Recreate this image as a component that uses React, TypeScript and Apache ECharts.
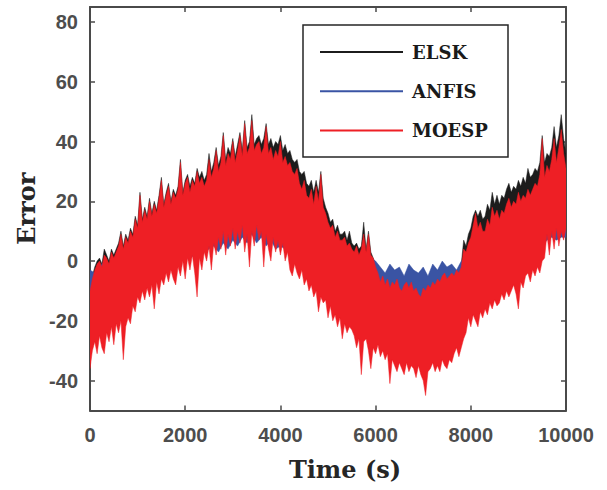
import React, { useEffect, useRef } from 'react';
import * as echarts from 'echarts';

const SERIES_NAMES = ['ELSK', 'ANFIS', 'MOESP'];
const SERIES_COLORS = ['#1c1c1c', '#3a54a4', '#ee1f25'];
const X_TICKS = [0, 2000, 4000, 6000, 8000, 10000];
const Y_TICKS = [-40, -20, 0, 20, 40, 60, 80];

// sampling times (s)
const T_50 = Array.from({ length: 201 }, (_, i) => i * 50);
const T_100 = Array.from({ length: 101 }, (_, i) => i * 100);
const T_1000 = [0, 1000, 2000, 3000, 4000, 5000, 6000, 7000, 8000, 9000, 10000];

// MOESP upper / lower envelope, every 50 s
const MOESP_UP = [
  -10, -6, -3, -1, 0, -2, 2, 1, -1, 3, 1, 3, 5, 9, 4, 8, 6, 10, 8, 14,
  11, 22, 13, 17, 14, 20, 15, 19, 16, 21, 27, 18, 22, 25, 19, 23, 21, 24, 33, 22,
  26, 28, 23, 27, 25, 30, 26, 28, 25, 27, 34, 28, 31, 37, 30, 33, 42, 32, 36, 34,
  40, 33, 37, 42, 35, 46, 36, 38, 47, 37, 39, 40, 36, 38, 45, 36, 38, 34, 37, 35,
  40, 33, 35, 32, 33, 30, 29, 31, 26, 24, 27, 22, 21, 24, 19, 25, 20, 29, 18, 16,
  13, 11, 12, 8, 10, 7, 7, 8, 5, 6, 4, 3, 5, 2, 4, 9, 3, 9, 2, 1,
  -2, -4, -7, -5, -8, -6, -9, -7, -8, -6, -9, -10, -8, -7, -9, -7, -10, -9, -11, -12,
  -9, -10, -8, -9, -7, -8, -6, -7, -5, -4, -6, -5, -4, -5, -3, -4, -2, 4, 3, 6,
  8, 12, 16, 11, 13, 10, 10, 14, 12, 18, 15, 17, 14, 17, 16, 19, 21, 18, 20, 19,
  23, 20, 22, 21, 24, 22, 24, 26, 25, 29, 41, 28, 32, 30, 34, 41, 33, 38, 44, 36,
  31,
];
const MOESP_LO = [
  -36, -30, -27, -31, -25, -29, -31, -24, -27, -22, -28, -21, -24, -20, -33, -22, -19, -21, -15, -17,
  -12, -14, -10, -13, -9, -12, -8, -16, -7, -11, -6, -8, -4, -7, -3, -6, -8, -2, -5, 0,
  -6, 1, -3, 2, -4, -12, 1, -3, 3, 0, 5, -3, 6, 2, 8, 4, 10, 2, 9, 5,
  11, 4, 10, 6, 12, 3, 9, -2, 10, 5, 12, 7, 10, -2, 9, 4, 0, 8, 3, 7,
  2, 6, 0, 3, -3, -5, -1, -4, -6, -3, -8, -6, -10, -8, -12, -10, -17, -12, -14, -13,
  -19, -15, -20, -18, -22, -19, -26, -21, -24, -22, -23, -25, -29, -26, -38, -27, -26, -30, -36, -29,
  -31, -28, -32, -30, -33, -31, -41, -33, -35, -37, -34, -36, -38, -34, -37, -35, -36, -39, -35, -38,
  -40, -45, -37, -36, -34, -37, -35, -37, -33, -35, -36, -33, -34, -31, -29, -32, -29, -26, -24, -19,
  -22, -18, -20, -22, -17, -19, -16, -18, -14, -16, -13, -15, -14, -11, -13, -10, -12, -10, -8, -11,
  -16, -7, -9, -5, -4, -7, -3, -5, -2, -4, 0, 1, 9, 2, 10, 4, 11, 5, 10, 7,
  11,
];

// ELSK upper envelope, every 50 s; lower envelope every 1000 s
const ELSK_UP = [
  -9, -5, -2, 0, 1, -1, 4, 2, 0, 4, 2, 4, 6, 10, 5, 9, 7, 11, 9, 15,
  12, 23, 14, 18, 15, 21, 16, 20, 17, 22, 28, 19, 23, 26, 20, 24, 22, 25, 34, 23,
  27, 29, 25, 28, 26, 31, 28, 30, 27, 29, 36, 30, 33, 38, 32, 35, 43, 34, 38, 36,
  41, 35, 39, 43, 37, 47, 38, 40, 49, 39, 41, 42, 39, 41, 46, 39, 41, 38, 40, 39,
  42, 37, 39, 36, 37, 34, 33, 34, 30, 29, 30, 26, 25, 27, 23, 27, 23, 30, 21, 18,
  16, 13, 14, 10, 12, 9, 9, 10, 7, 10, 6, 5, 6, 4, 5, 13, 4, 10, 3, 1,
  -1, -3, -6, -4, -7, -5, -8, -6, -7, -5, -8, -9, -7, -6, -8, -6, -9, -8, -10, -11,
  -8, -9, -7, -8, -6, -7, -5, -6, -4, -3, -5, -4, -3, -4, -4, -3, -1, 7, 5, 9,
  11, 15, 17, 15, 17, 14, 15, 19, 17, 23, 19, 22, 19, 22, 21, 24, 26, 23, 25, 24,
  27, 25, 28, 26, 31, 28, 29, 31, 30, 33, 42, 33, 36, 35, 38, 45, 38, 42, 49, 41,
  36,
];
const ELSK_LO = [-20, -2, 10, 22, 20, 0, -15, -22, -8, 6, 20];

// ANFIS upper / lower envelope, every 100 s
const ANFIS_UP = [
  -3, -4, -2, 0, -1, 1, 2, 3, 3, 4,
  5, 6, 7, 8, 9, 10, 10, 11, 12, 12,
  13, 13, 14, 14, 15, 15, 15, 16, 16, 16,
  16, 17, 17, 17, 17, 17, 17, 16, 16, 16,
  15, 15, 14, 14, 13, 12, 11, 10, 9, 9,
  8, 7, 6, 5, 4, 3, 2, 2, 2, 1,
  0, -2, -4, -1, -3, -2, -5, -1, -3, -4,
  -2, -5, -1, -3, 0, -2, -1, -3, 0, 1,
  2, 3, 4, 5, 5, 6, 7, 7, 8, 8,
  9, 9, 10, 10, 11, 12, 12, 13, 13, 14,
  14,
];
const ANFIS_LO = [
  -12, -11, -12, -10, -11, -10, -9, -9, -8, -7,
  -6, -6, -5, -5, -4, -3, -3, -2, -1, 0,
  1, 1, 2, 2, 3, 4, 5, 3, 6, 4,
  7, 5, 8, 6, 9, 6, 8, 5, 7, 4,
  5, 4, 3, 2, 1, 0, -1, -2, -3, -4,
  -5, -6, -7, -8, -9, -10, -11, -12, -13, -13,
  -14, -14, -15, -15, -16, -16, -16, -17, -17, -17,
  -17, -17, -16, -16, -16, -15, -15, -14, -13, -12,
  -10, -9, -8, -7, -6, -4, -3, -2, -1, 0,
  1, 2, 3, 3, 4, 5, 7, 8, 7, 8,
  8,
];

const BANDS = [
  { tUp: T_50, up: ELSK_UP, tLo: T_1000, lo: ELSK_LO },
  { tUp: T_100, up: ANFIS_UP, tLo: T_100, lo: ANFIS_LO },
  { tUp: T_50, up: MOESP_UP, tLo: T_50, lo: MOESP_LO },
];

const AXIS_COLOR = '#4a4a4a';
const LABEL_FONT = 'Liberation Sans, Arial, sans-serif';
const TITLE_FONT = 'DejaVu Serif, serif';

export default function App() {
  const ref = useRef<HTMLDivElement>(null);
  useEffect(() => {
    if (!ref.current) return;
    const chart = echarts.init(ref.current, undefined, { renderer: 'svg' });

    const series = BANDS.map((b, k) => ({
      type: 'custom',
      name: SERIES_NAMES[k],
      xAxisIndex: 0,
      yAxisIndex: 0,
      silent: true,
      clip: true,
      itemStyle: { color: SERIES_COLORS[k] },
      data: [[0, 0]],
      renderItem: (_params: any, api: any) => {
        const pts: number[][] = [];
        for (let i = 0; i < b.tUp.length; i++) pts.push(api.coord([b.tUp[i], b.up[i]]));
        for (let i = b.tLo.length - 1; i >= 0; i--) pts.push(api.coord([b.tLo[i], b.lo[i]]));
        return {
          type: 'polygon',
          shape: { points: pts },
          style: { fill: SERIES_COLORS[k], stroke: SERIES_COLORS[k], lineWidth: 0.5 },
        };
      },
    }));

    const tickStyle = { show: true, inside: true, length: 5, lineStyle: { color: AXIS_COLOR, width: 1.5 } };
    const lineStyle = { show: true, onZero: false, lineStyle: { color: AXIS_COLOR, width: 2 } };
    const labelStyle = {
      fontFamily: LABEL_FONT,
      fontWeight: 'bold' as const,
      fontSize: 20,
      color: '#4d4d4d',
      formatter: (v: number) => String(v),
    };

    chart.setOption({
      animation: false,
      backgroundColor: '#ffffff',
      grid: { left: 90, right: 41, top: 7, bottom: 79.5, containLabel: false },
      xAxis: [
        {
          type: 'value',
          position: 'bottom',
          min: 0,
          max: 10000,
          interval: 2000,
          axisLine: lineStyle,
          axisTick: { ...tickStyle, customValues: X_TICKS },
          axisLabel: { ...labelStyle, margin: 14, customValues: X_TICKS },
          splitLine: { show: false },
          name: 'Time (s)',
          nameLocation: 'middle',
          nameGap: 47,
          nameTextStyle: {
            fontFamily: TITLE_FONT,
            fontWeight: 'bold',
            fontSize: 24,
            color: '#262626',
            padding: [0, 0, 0, 34],
          },
        },
        {
          type: 'value',
          position: 'top',
          min: 0,
          max: 10000,
          interval: 2000,
          axisLine: lineStyle,
          axisTick: { ...tickStyle, customValues: X_TICKS },
          axisLabel: { show: false },
          splitLine: { show: false },
        },
      ],
      yAxis: [
        {
          type: 'value',
          position: 'left',
          min: -50,
          max: 85,
          axisLine: lineStyle,
          axisTick: { ...tickStyle, customValues: Y_TICKS },
          axisLabel: { ...labelStyle, margin: 12, customValues: Y_TICKS },
          splitLine: { show: false },
          name: 'Error',
          nameLocation: 'middle',
          nameGap: 50,
          nameTextStyle: {
            fontFamily: TITLE_FONT,
            fontWeight: 'bold',
            fontSize: 24,
            color: '#262626',
          },
        },
        {
          type: 'value',
          position: 'right',
          min: -50,
          max: 85,
          axisLine: lineStyle,
          axisTick: { ...tickStyle, customValues: Y_TICKS },
          axisLabel: { show: false },
          splitLine: { show: false },
        },
      ],
      legend: {
        data: SERIES_NAMES,
        orient: 'vertical',
        left: 320,
        top: 42,
        padding: 0,
        itemGap: 19.3,
        itemWidth: 83,
        itemHeight: 2,
        icon: 'rect',
        z: 10,
        textStyle: {
          fontFamily: TITLE_FONT,
          fontWeight: 'bold',
          fontSize: 18,
          color: '#1a1a1a',
          lineHeight: 20,
          padding: [0, 0, 0, 4],
        },
      },
      graphic: [
        {
          type: 'rect',
          z: 1,
          shape: { x: 303, y: 25, width: 205, height: 132 },
          style: { fill: '#ffffff', stroke: '#262626', lineWidth: 1.5 },
        },
      ],
      series,
    });
    return () => chart.dispose();
  }, []);

  return (
    <div
      ref={ref}
      style={{ position: 'absolute', left: 0, top: 0, width: 607, height: 490, background: '#fff' }}
    />
  );
}
